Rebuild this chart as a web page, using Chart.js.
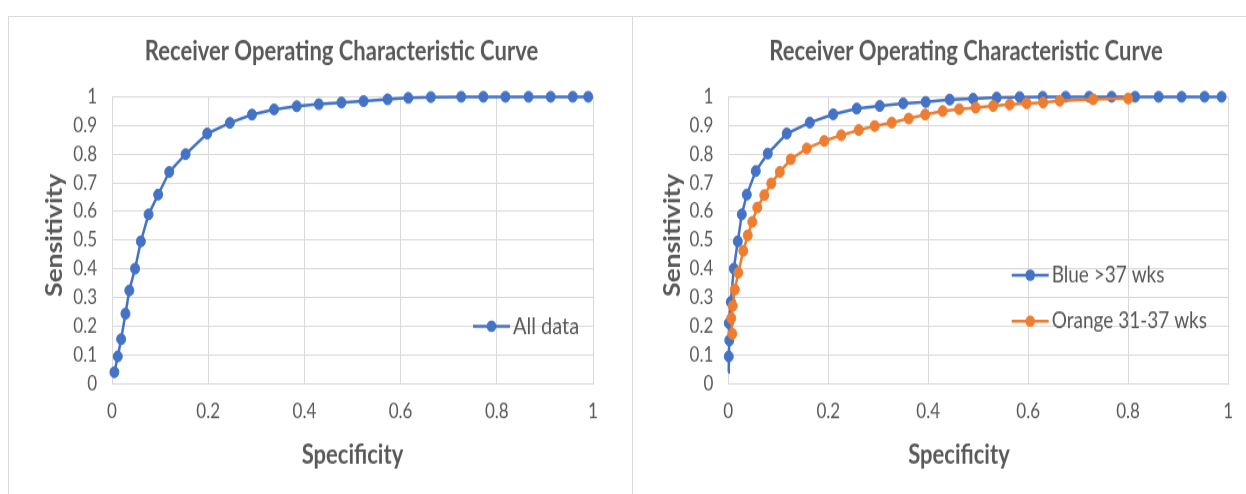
<!DOCTYPE html>
<html>
<head>
<meta charset="utf-8">
<title>Receiver Operating Characteristic Curve</title>
<script src="https://cdn.jsdelivr.net/npm/chart.js@4.4.1/dist/chart.umd.min.js"></script>
<style>
  html, body { margin: 0; padding: 0; background: #fff; width: 1246px; height: 494px; overflow: hidden; }
  .panel { position: absolute; top: 16px; height: 540px; box-sizing: border-box; border-top: 1px solid #d9d9d9; background: #fff; }
  #panelAll { left: 8px; width: 625px; border-left: 1px solid #d9d9d9; border-right: 1px solid #d9d9d9; }
  #panelAge { left: 633px; width: 640px; }
  canvas { position: absolute; left: 0; top: 0; }
</style>
</head>
<body>
<div class="panel" id="panelAll"><canvas id="rocAll" width="622" height="398" style="width:622px;height:477.6px"></canvas></div>
<div class="panel" id="panelAge"><canvas id="rocAge" width="613" height="398" style="width:613px;height:477.6px"></canvas></div>
<script>
// ---- texts ----
const chartTitle = 'Receiver Operating Characteristic Curve';
const xAxisTitle = 'Specificity';
const yAxisTitle = 'Sensitivity';

// ---- axis ticks ----
const xTickValues = [0, 0.2, 0.4, 0.6, 0.8, 1];
const xTickLabels = ['0', '0.2', '0.4', '0.6', '0.8', '1'];
const yTickValues = [0, 0.1, 0.2, 0.3, 0.4, 0.5, 0.6, 0.7, 0.8, 0.9, 1];
const yTickLabels = ['0', '0.1', '0.2', '0.3', '0.4', '0.5', '0.6', '0.7', '0.8', '0.9', '1'];

// ---- left chart: all data ----
const allLabel = 'All data';
const allSpecificity = [0.005, 0.012, 0.019, 0.028, 0.036, 0.048, 0.060, 0.076, 0.096, 0.119,
  0.153, 0.198, 0.245, 0.291, 0.337, 0.384, 0.430, 0.477, 0.523, 0.573,
  0.616, 0.663, 0.726, 0.772, 0.818, 0.866, 0.912, 0.958, 0.990];
const allSensitivity = [0.040, 0.095, 0.155, 0.244, 0.325, 0.401, 0.496, 0.590, 0.659, 0.738,
  0.800, 0.872, 0.909, 0.938, 0.956, 0.967, 0.974, 0.980, 0.985, 0.991,
  0.996, 0.999, 1, 1, 1, 1, 1, 1, 1];

// ---- right chart: by gestational age ----
const blueLabel = 'Blue >37 wks';
const blueSpecificity = [0, 0.001, 0.002, 0.001, 0.005, 0.011, 0.019, 0.027, 0.037, 0.055,
  0.079, 0.117, 0.163, 0.210, 0.257, 0.303, 0.350, 0.395, 0.443, 0.490,
  0.537, 0.583, 0.629, 0.675, 0.722, 0.767, 0.814, 0.861, 0.907, 0.953, 0.987];
const blueSensitivity = [0.040, 0.095, 0.151, 0.211, 0.285, 0.401, 0.496, 0.590, 0.659, 0.741,
  0.802, 0.872, 0.910, 0.939, 0.959, 0.968, 0.977, 0.982, 0.990, 0.993,
  0.997, 0.999, 1, 1, 1, 1, 1, 1, 1, 1, 1];

const orangeLabel = 'Orange 31-37 wks';
const orangeSpecificity = [0.008, 0.006, 0.009, 0.013, 0.020, 0.030, 0.039, 0.048, 0.058, 0.072,
  0.086, 0.103, 0.125, 0.157, 0.192, 0.226, 0.261, 0.293, 0.327, 0.361,
  0.394, 0.429, 0.462, 0.495, 0.530, 0.563, 0.597, 0.630, 0.663, 0.730, 0.800];
const orangeSensitivity = [0.174, 0.228, 0.271, 0.328, 0.387, 0.463, 0.517, 0.564, 0.614, 0.657,
  0.698, 0.738, 0.782, 0.820, 0.846, 0.866, 0.884, 0.898, 0.910, 0.924,
  0.938, 0.950, 0.957, 0.962, 0.968, 0.973, 0.977, 0.980, 0.986, 0.991, 0.994];

// ---- styling ----
const BLUE = '#4472C4';
const ORANGE = '#ED7D31';
const TEXT = '#595959';
const GRID = '#d9d9d9';
const FONT = 'Lato, "Open Sans", sans-serif';

const toPoints = (xs, ys) => xs.map((x, i) => ({ x, y: ys[i] }));

function series(label, xs, ys, color, extra) {
  return Object.assign({
    label,
    data: toPoints(xs, ys),
    showLine: true,
    borderColor: color,
    backgroundColor: color,
    borderWidth: 2.5,
    pointRadius: 4.5,
    pointBorderWidth: 1,
    pointBorderColor: color,
    pointBackgroundColor: color,
    tension: 0,
    clip: false
  }, extra || {});
}

// Chart title and axis titles, placed in canvas pixels
const headings = {
  id: 'headings',
  afterDraw(chart, args, opts) {
    const ctx = chart.ctx;
    ctx.save();
    ctx.fillStyle = opts.color;
    ctx.textAlign = 'center';
    ctx.textBaseline = 'middle';
    for (const h of opts.items) {
      ctx.save();
      ctx.font = h.font;
      ctx.translate(h.x, h.y);
      if (h.rotate) ctx.rotate(h.rotate);
      ctx.fillText(h.text, 0, 0);
      ctx.restore();
    }
    ctx.restore();
  }
};

// Line-and-marker legend drawn inside the plot area
const insetLegend = {
  id: 'insetLegend',
  afterDraw(chart, args, opts) {
    const ctx = chart.ctx;
    ctx.save();
    chart.data.datasets.forEach((ds, i) => {
      const y = opts.y + i * opts.rowGap;
      ctx.strokeStyle = ds.borderColor;
      ctx.lineWidth = ds.borderWidth;
      ctx.beginPath();
      ctx.moveTo(opts.x, y);
      ctx.lineTo(opts.x + opts.lineLength, y);
      ctx.stroke();
      ctx.fillStyle = ds.backgroundColor;
      ctx.beginPath();
      ctx.arc(opts.x + opts.lineLength / 2, y, opts.radius, 0, Math.PI * 2);
      ctx.fill();
      ctx.fillStyle = opts.color;
      ctx.font = opts.font;
      ctx.textAlign = 'left';
      ctx.textBaseline = 'middle';
      ctx.fillText(ds.label, opts.x + opts.lineLength + opts.gap, y);
    });
    ctx.restore();
  }
};

function rocChart(canvasId, datasets, box) {
  return new Chart(document.getElementById(canvasId), {
    type: 'scatter',
    data: { datasets },
    plugins: [headings, insetLegend],
    options: {
      responsive: false,
      animation: false,
      events: [],
      layout: { padding: { left: 0, right: box.padRight, top: box.padTop, bottom: 0 } },
      plugins: {
        legend: { display: false },
        title: { display: false },
        tooltip: { enabled: false },
        headings: {
          color: TEXT,
          items: [
            { text: chartTitle, x: box.titleX, y: box.titleY, font: 'bold 22px ' + FONT },
            { text: xAxisTitle, x: box.xTitleX, y: box.xTitleY, font: 'bold 22px ' + FONT },
            { text: yAxisTitle, x: box.yTitleX, y: box.yTitleY, rotate: -Math.PI / 2, font: 'bold 22px ' + FONT }
          ]
        },
        insetLegend: Object.assign({ color: TEXT, lineLength: 37, gap: 3, radius: 4.8 }, box.legend)
      },
      scales: {
        x: {
          type: 'linear',
          min: 0,
          max: 1,
          afterBuildTicks: s => { s.ticks = xTickValues.map(v => ({ value: v })); },
          afterFit: s => { s.height = box.xHeight; },
          grid: { color: GRID, lineWidth: 1, drawTicks: false },
          border: { display: true, color: GRID, width: 1 },
          ticks: {
            padding: 13,
            color: TEXT,
            font: { family: FONT, size: 17 },
            maxRotation: 0,
            callback: (v, i) => xTickLabels[i]
          }
        },
        y: {
          type: 'linear',
          min: 0,
          max: 1,
          afterBuildTicks: s => { s.ticks = yTickValues.map(v => ({ value: v })); },
          afterFit: s => { s.width = box.yWidth; },
          grid: { color: GRID, lineWidth: 1, drawTicks: false },
          border: { display: true, color: GRID, width: 1 },
          ticks: {
            padding: 15,
            color: TEXT,
            font: { family: FONT, size: 17 },
            callback: (v, i) => yTickLabels[i]
          }
        }
      }
    }
  });
}

rocChart('rocAll', [
  series(allLabel, allSpecificity, allSensitivity, BLUE)
], {
  padRight: 38, padTop: 66.4, yWidth: 103, xHeight: 92.7,
  titleX: 332.5, titleY: 29.2,
  xTitleX: 343.5, xTitleY: 365,
  yTitleX: 46, yTitleY: 181.7,
  legend: { x: 464, y: 257.5, rowGap: 38, font: '20px ' + FONT }
});

rocChart('rocAge', [
  series(blueLabel, blueSpecificity, blueSensitivity, BLUE, {
    order: 1,
    pointRadius: ctx => (ctx.dataIndex === 0 ? 0 : 4.5),
    pointBorderWidth: ctx => (ctx.dataIndex === 0 ? 0 : 1)
  }),
  series(orangeLabel, orangeSpecificity, orangeSensitivity, ORANGE, { order: 0 })
], {
  padRight: 17.7, padTop: 66.4, yWidth: 95.3, xHeight: 92.7,
  titleX: 333, titleY: 29.2,
  xTitleX: 326, xTitleY: 365,
  yTitleX: 39.5, yTitleY: 181.7,
  legend: { x: 378.7, y: 215, rowGap: 38.3, font: '19px ' + FONT }
});
</script>
</body>
</html>
